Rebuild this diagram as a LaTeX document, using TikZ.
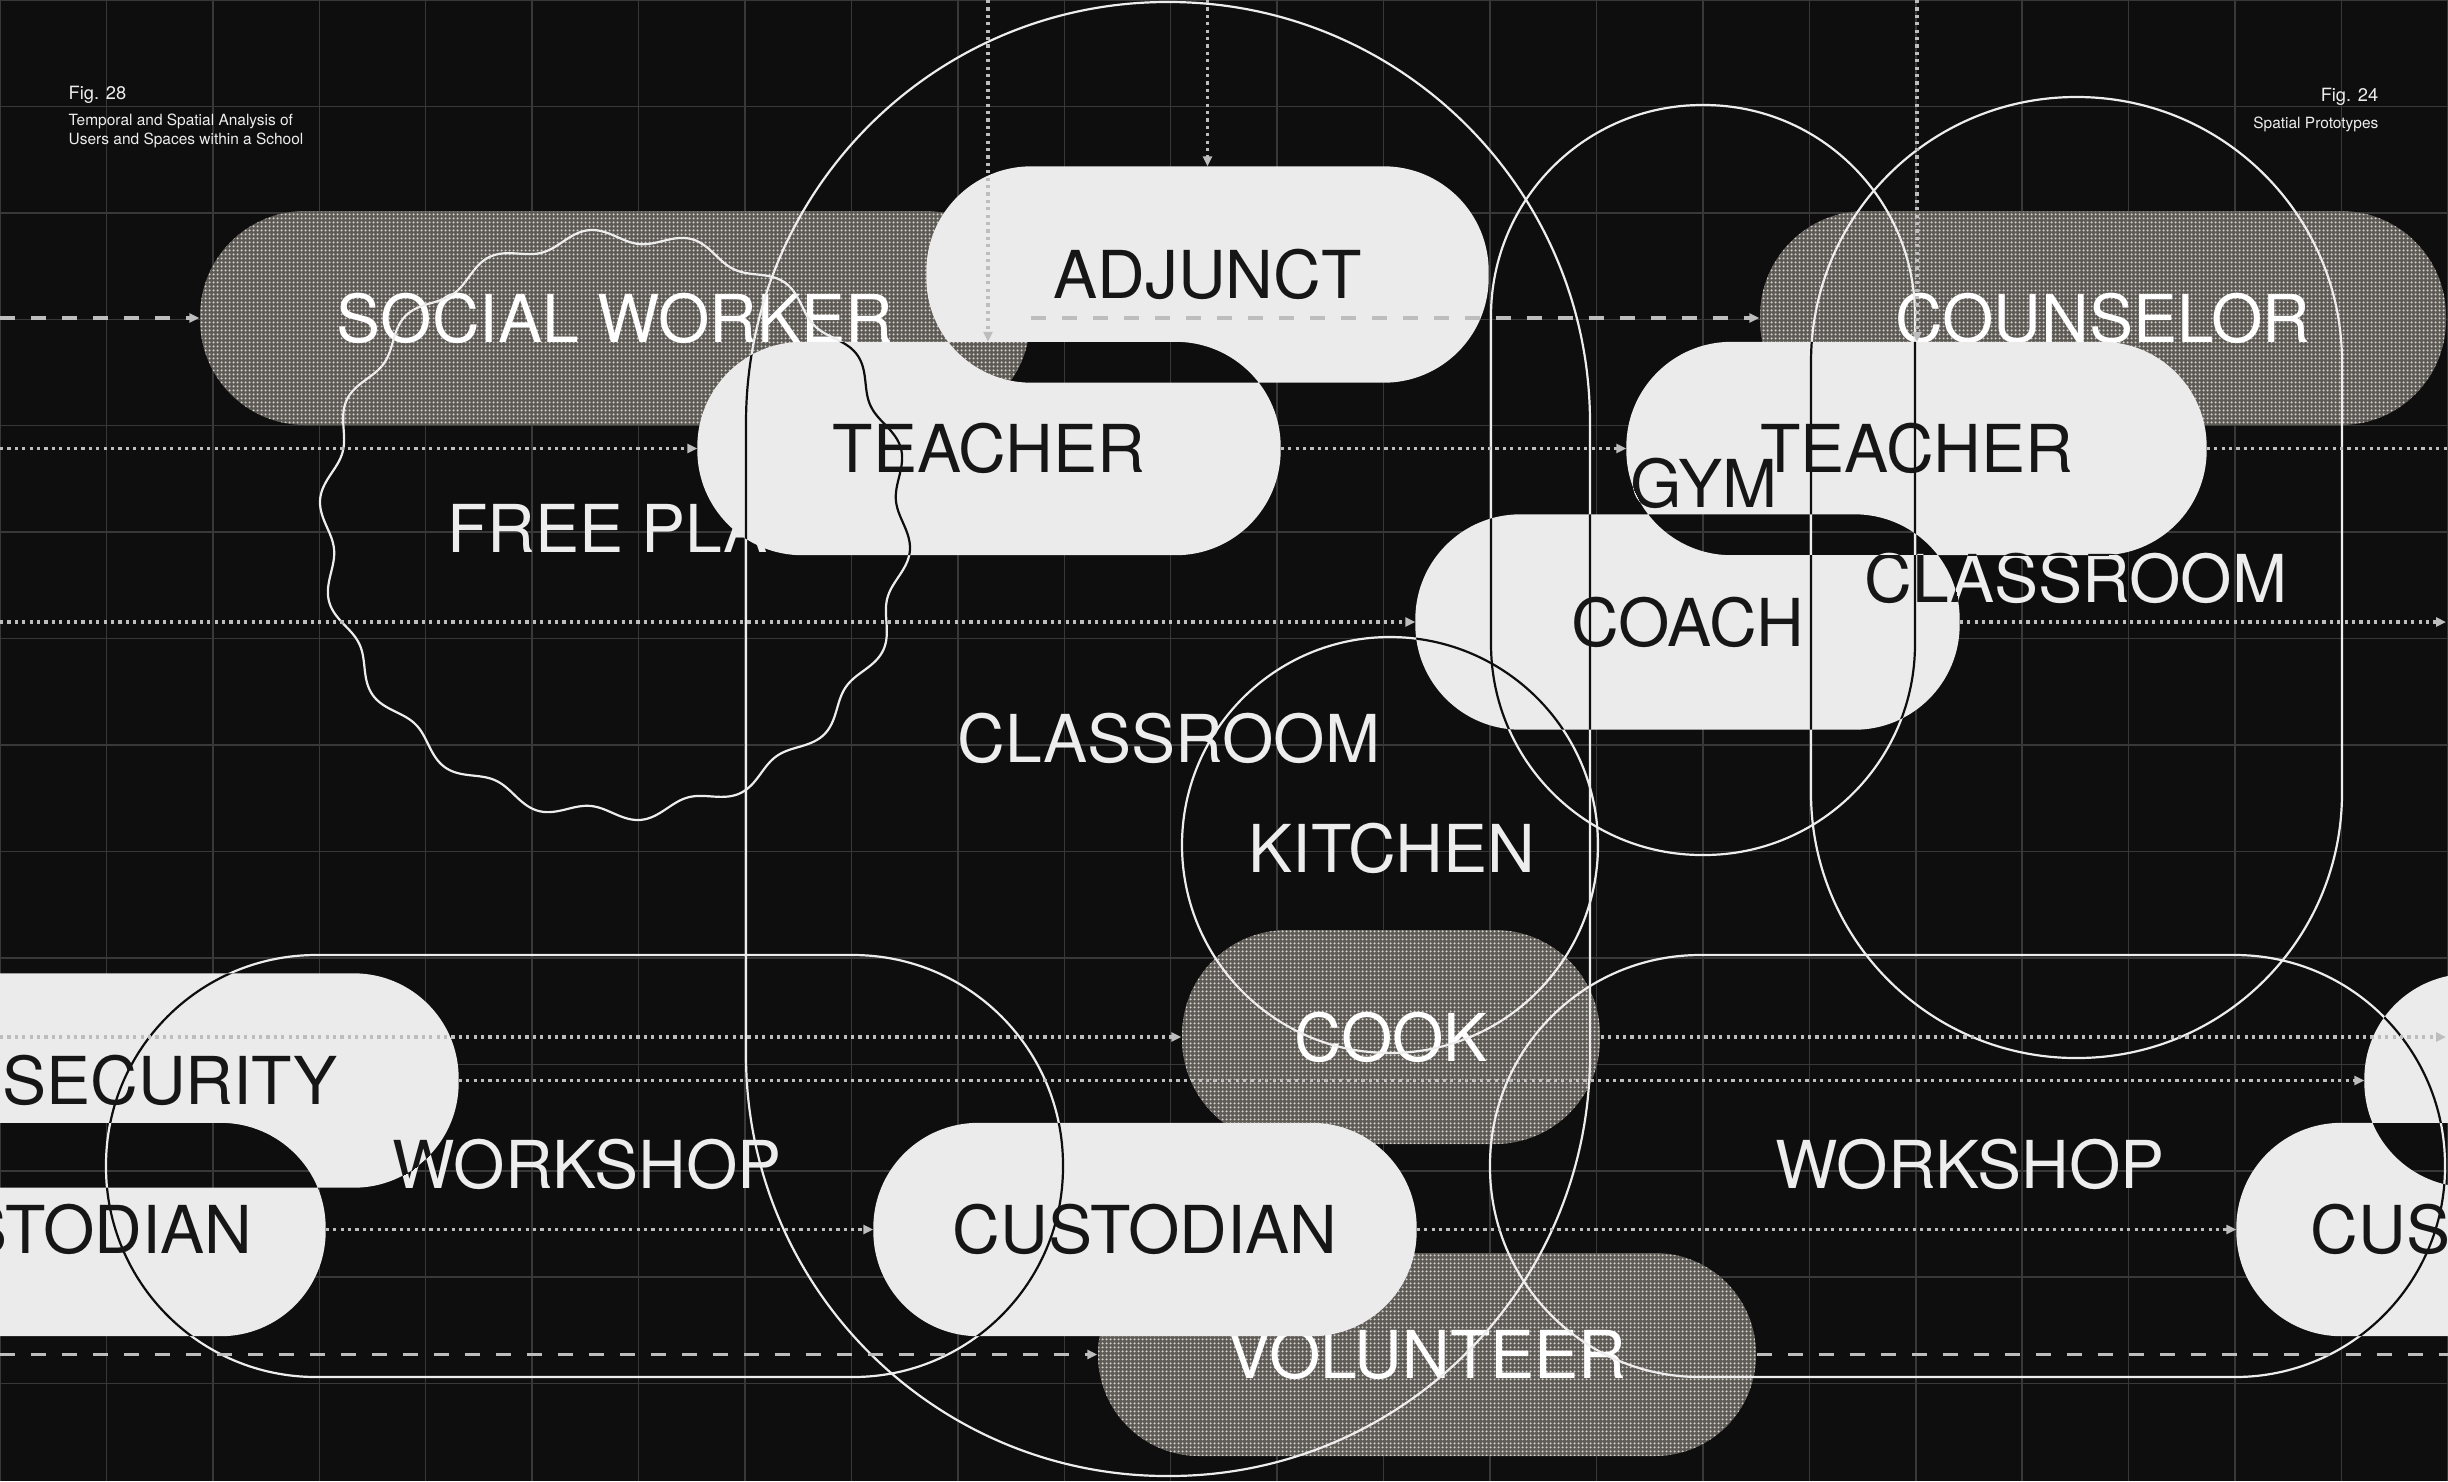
\documentclass[tikz,border=0pt]{standalone}
\usepackage{fontspec}
\setmainfont{TeX Gyre Heros}
\usetikzlibrary{arrows.meta,patterns.meta}

\definecolor{ink}{HTML}{0E0E0E}
\definecolor{gridc}{HTML}{383838}
\definecolor{paper}{HTML}{EBEBEB}
\definecolor{screenbase}{HTML}{5E5A56}
\definecolor{screenlight}{HTML}{D6D2CE}
\definecolor{wire}{HTML}{EDEDED}
\definecolor{flow}{HTML}{BDBDBD}
\definecolor{type}{HTML}{161616}

\newcommand\roomfont{\fontsize{18.8pt}{20pt}\selectfont}
\newcommand\figfont{\fontsize{5.2pt}{6pt}\selectfont}
\newcommand\subfont{\fontsize{4.4pt}{5.4pt}\selectfont}

% fine dot screen for the grey pills
\tikzdeclarepattern{
  name=screendots,
  type=uncolored,
  bottom left={(0pt,0pt)},
  top right={(1.14pt,1.14pt)},
  tile size={(1.14pt,1.14pt)},
  code={\fill (0.57pt,0.57pt) circle [radius=0.4pt];}
}

% outline figures (stadiums, kitchen circle, free-play blob), drawn in a given colour
\newcommand\wireframe[1]{%
  \draw[wireline=#1, rounded corners=42.1mm] (746,2) rectangle (1590,1476);
  \draw[wireline=#1, rounded corners=21.1mm] (1491,105) rectangle (1915,855);
  \draw[wireline=#1, rounded corners=26.5mm] (1811,97) rectangle (2342,1058);
  \draw[wireline=#1] (1390,845) circle [radius=208];
  \draw[wireline=#1, rounded corners=21.0mm] (106,955) rectangle (1063,1377);
  \draw[wireline=#1, rounded corners=21.0mm] (1490,955) rectangle (2445,1377);
  \draw[wireline=#1] plot[domain=0:360, samples=721, variable=\t]
      ({615+(289+7*sin(18*\t))*cos(\t)}, {525+(289+7*sin(18*\t))*sin(\t)}) -- cycle;
}

\tikzset{
  gridline/.style={draw=gridc, line width=0.15mm},
  pillbox/.style={rectangle, inner sep=0pt, minimum height=21.2mm},
  halfpill/.style={pillbox, preaction={fill=screenbase}, pattern=screendots,
    pattern color=screenlight, rounded corners=10.5mm, text=white, font=\roomfont},
  whitepill/.style={pillbox, draw=none},
  freetext/.style={inner sep=0pt, font=\roomfont, text=wire},
  pilltext/.style={inner sep=0pt, font=\roomfont, text=type},
  captext/.style={inner sep=0pt, text=wire},
  wireline/.style={draw=#1, line width=0.22mm},
  flowline/.style={draw=flow, line width=0.32mm},
  dashflow/.style={flowline, dash pattern=on 1.5mm off 1.6mm},
  dotflow/.style={flowline, dash pattern=on 0.32mm off 0.42mm},
  arrowend/.style={-{Triangle[length=1.0mm,width=0.9mm]}},
  whitepills/.style={insert path={
    (adj.south west) rectangle (adj.north east)
    (teachL.south west) rectangle (teachL.north east)
    (teachR.south west) rectangle (teachR.north east)
    (coach.south west) rectangle (coach.north east)
    (custM.south west) rectangle (custM.north east)
    (secL.south west) rectangle (secL.north east)
    (custL.south west) rectangle (custL.north east)
    (secR.south west) rectangle (secR.north east)
    (cusR.south west) rectangle (cusR.north east)}},
}

\begin{document}
\begin{tikzpicture}[x=0.1mm, y=-0.1mm]
\useasboundingbox (0,0) rectangle (2448,1481);
\clip (0,0) rectangle (2448,1481);
\fill[ink] (0,0) rectangle (2448,1481);

% grid
\foreach \k in {0,...,23} \draw[gridline] ({\k*106.43},0) -- ({\k*106.43},1481);
\foreach \k in {0,...,13} \draw[gridline] (0,{\k*106.43}) -- (2448,{\k*106.43});

% screened (halftone) pills
\node[halfpill, minimum width=83mm, minimum height=21.4mm] (social) at (615,318) {SOCIAL WORKER};
\node[halfpill, minimum width=68.6mm, minimum height=21.4mm] (couns) at (2103,318) {COUNSELOR};
\node[halfpill, minimum width=41.8mm, minimum height=21.4mm] (cook) at (1391,1037) {COOK};
\node[halfpill, minimum width=65.8mm, minimum height=20.3mm, rounded corners=10.1mm] (volunteer) at (1427,1354.5) {VOLUNTEER};

\node[freetext] (freeplay) at (626,528) {FREE PLAY};

% white pills: geometry first, filled with the even-odd rule so overlaps cut out
\node[whitepill, minimum width=56.1mm, minimum height=21.5mm] (adj) at (1207.5,274.5) {};
\node[whitepill, minimum width=58.2mm] (teachL) at (989,448.5) {};
\node[whitepill, minimum width=57.9mm] (teachR) at (1916.5,448.5) {};
\node[whitepill, minimum width=54.3mm, minimum height=21.4mm] (coach) at (1687.5,622) {};
\node[whitepill, minimum width=54.2mm] (custM) at (1145,1229.5) {};
\node[whitepill, minimum width=60.4mm, minimum height=21.3mm] (secL) at (156,1080.5) {};
\node[whitepill, minimum width=55.0mm] (custL) at (50,1229.5) {};
\node[whitepill, minimum width=60.4mm] (secR) at (2667,1080.5) {};
\node[whitepill, minimum width=55.0mm] (cusR) at (2512,1229.5) {};

\fill[paper, even odd rule, rounded corners=10.5mm, whitepills];

% outlines: light on dark, dark where they cross the white pills
\wireframe{wire}

% free labels
\node[freetext] (classM) at (1169,738) {CLASSROOM};
\node[freetext] (kitchen) at (1392,848) {KITCHEN};
\node[freetext] (workL) at (587,1164) {WORKSHOP};
\node[freetext] (workR) at (1970,1164) {WORKSHOP};
\node[freetext] (gym) at (1704,483) {GYM};
\node[freetext] (classR) at (2076,578) {CLASSROOM};

\begin{scope}
  \pgfseteorule
  \path[clip, rounded corners=10.5mm, whitepills];
  \wireframe{ink}
  \node[pilltext] (gymInk) at (gym) {GYM};
  \node[pilltext] (classRInk) at (classR) {CLASSROOM};
  \node[pilltext] (workLInk) at (workL) {WORKSHOP};
\end{scope}

% labels on the white pills
\node[pilltext] (adjT) at (adj) {ADJUNCT};
\node[pilltext] (teachLT) at (teachL) {TEACHER};
\node[pilltext] (teachRT) at (teachR) {TEACHER};
\node[pilltext] (coachT) at (coach) {COACH};
\node[pilltext] (custMT) at (custM) {CUSTODIAN};
\node[pilltext] (secLT) at ([xshift=1.4mm]secL.center) {SECURITY};
\node[pilltext] (custLT) at ([xshift=1.0mm]custL.center) {CUSTODIAN};
\node[pilltext] (cusRT) at ([xshift=-0.9mm]cusR.center) {CUSTODIAN};

% time lines
\coordinate (inA) at (0,318);
\coordinate (inB) at (0,448.5);
\coordinate (outB) at (2448,448.5);
\coordinate (inC) at (0,622);
\coordinate (outC) at (2446,622);
\coordinate (inD) at (0,1037);
\coordinate (outD) at (2446,1037);
\coordinate (inG) at (0,1354.5);
\coordinate (outG) at (2448,1354.5);
\coordinate (topT) at (988,0);
\coordinate (topA) at (1207.5,0);
\coordinate (topR) at (1917,0);

\draw[dashflow, arrowend] (inA) -- (social.west);
\draw[dashflow, arrowend] (social.east) -- (couns.west);
\draw[dotflow, arrowend] (inB) -- (teachL.west);
\draw[dotflow, arrowend] (teachL.east) -- (teachR.west);
\draw[dotflow] (teachR.east) -- (outB);
\draw[dotflow, arrowend] (inC) -- (coach.west);
\draw[dotflow, arrowend] (coach.east) -- (outC);
\draw[dotflow, arrowend] (inD) -- (cook.west);
\draw[dotflow, arrowend] (cook.east) -- (outD);
\draw[dotflow, arrowend] (secL.east) -- (secR.west);
\draw[dotflow, arrowend] (custL.east) -- (custM.west);
\draw[dotflow, arrowend] (custM.east) -- (cusR.west);
\draw[dashflow, arrowend] (inG) -- (volunteer.west);
\draw[dashflow] (volunteer.east) -- (outG);
\draw[dotflow, arrowend] (topT) -- (topT |- teachL.north);
\draw[dotflow, arrowend] (topA) -- (adj.north);
\draw[dotflow, arrowend] (topR) -- (topR |- teachR.north);

% captions
\node[captext, font=\figfont, anchor=base west] (figL) at (68,99) {Fig. 28};
\node[captext, font=\subfont, anchor=base west] (subL1) at (68,125) {Temporal and Spatial Analysis of};
\node[captext, font=\subfont, anchor=base west] (subL2) at (68,144) {Users and Spaces within a School};
\node[captext, font=\figfont, anchor=base east] (figR) at (2379,101) {Fig. 24};
\node[captext, font=\subfont, anchor=base east] (subR) at (2379,128) {Spatial Prototypes};
\end{tikzpicture}
\end{document}
